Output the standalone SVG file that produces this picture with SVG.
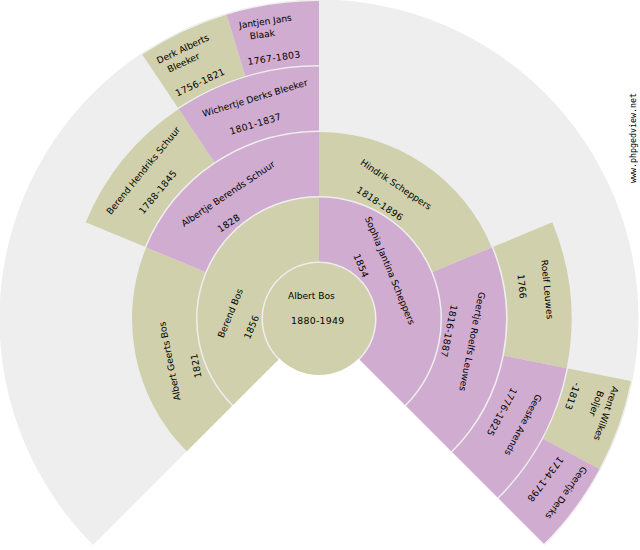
<svg xmlns="http://www.w3.org/2000/svg" width="640" height="550" viewBox="0 0 640 550">
<style>
.bg{fill:#eeeeee}
.m{fill:#d0d0ac}
.f{fill:#d0acd0}
text{font-family:"DejaVu Sans","Verdana",sans-serif;font-size:9.1px;fill:#000}
text.d{font-size:9.33px;letter-spacing:0.3px}
.wm{font-family:"DejaVu Sans Mono",monospace;font-size:8px;fill:#000}
</style>
<rect width="640" height="550" fill="#ffffff"/>
<path id="fan-background" class="bg" d="M319,319 L93.079,544.921 A319.5,319.5 0 1 1 544.921,544.921 Z"/>
<g id="connectors"/>

<g id="p1-albert-bos">
<circle class="m" cx="319" cy="319" r="56"/>
<g transform="translate(279,299)"><text x="9" y="0">Albert Bos</text><text class="d" x="12" y="25">1880-1949</text></g>
</g>

<g id="p2-berend-bos">
<path class="m" d="M233.087,404.913 A121.5,121.5 0 0 1 319,197.5 L319,261.5 A57.5,57.5 0 0 0 278.341,359.659 Z"/>
<g transform="translate(209.53,371.72) rotate(-67.5)"><text x="36" y="0">Berend Bos</text><text class="d" x="45" y="25">1856</text></g>
</g>

<g id="p3-sophia-jantina-scheppers">
<path class="f" d="M319,197.5 A121.5,121.5 0 0 1 404.913,404.913 L359.659,359.659 A57.5,57.5 0 0 0 319,261.5 Z"/>
<g transform="translate(359.13,204.32) rotate(67.5)"><text x="15" y="0">Sophia Jantina Scheppers</text><text class="d" x="45" y="25">1854</text></g>
</g>

<g id="p4-albert-geerts-bos">
<path class="m" d="M186.771,451.229 A187,187 0 0 1 146.234,247.438 L205.363,271.930 A123,123 0 0 0 232.026,405.974 Z"/>
<g transform="translate(185.88,426.34) rotate(-101.25)"><text x="27" y="0">Albert Geerts Bos</text><text class="d" x="45" y="25">1821</text></g>
</g>

<g id="p5-albertje-berends-schuur">
<path class="f" d="M146.234,247.438 A187,187 0 0 1 319,132 L319,196 A123,123 0 0 0 205.363,271.930 Z"/>
<g transform="translate(168.92,237.05) rotate(-33.75)"><text x="18" y="0">Albertje Berends Schuur</text><text class="d" x="45" y="25">1828</text></g>
</g>

<g id="p6-hindrik-scheppers">
<path class="m" d="M319,132 A187,187 0 0 1 491.766,247.438 L432.637,271.930 A123,123 0 0 0 319,196 Z"/>
<g transform="translate(337.28,148.98) rotate(33.75)"><text x="27" y="0">Hindrik Scheppers</text><text class="d" x="39" y="25">1818-1896</text></g>
</g>

<g id="p7-geertje-roelfs-leuwes">
<path class="f" d="M491.766,247.438 A187,187 0 0 1 451.229,451.229 L405.974,405.974 A123,123 0 0 0 432.637,271.930 Z"/>
<g transform="translate(483.07,270.82) rotate(101.25)"><text x="21" y="0">Geertje Roelfs Leuwes</text><text class="d" x="39" y="25">1816-1887</text></g>
</g>

<g id="p10-berend-hendriks-schuur">
<path class="m" d="M85.720,222.373 A252.5,252.5 0 0 1 178.719,109.054 L214.275,162.268 A188.5,188.5 0 0 0 144.849,246.864 Z"/>
<g transform="translate(101.2,226.81) rotate(-50.625)"><text x="15" y="0">Berend Hendriks Schuur</text><text class="d" x="36" y="25">1788-1845</text></g>
</g>

<g id="p11-wichertje-derks-bleeker">
<path class="f" d="M178.719,109.054 A252.5,252.5 0 0 1 319,66.5 L319,130.5 A188.5,188.5 0 0 0 214.275,162.268 Z"/>
<g transform="translate(189.13,121.35) rotate(-16.875)"><text x="15" y="0">Wichertje Derks Bleeker</text><text class="d" x="36" y="25">1801-1837</text></g>
</g>

<g id="p14-roelf-leuwes">
<path class="m" d="M552.280,222.373 A252.5,252.5 0 0 1 566.648,368.260 L503.878,355.774 A188.5,188.5 0 0 0 493.151,246.864 Z"/>
<g transform="translate(538.2,230.19) rotate(84.375)"><text x="30" y="0">Roelf Leuwes</text><text class="d" x="42" y="25">1766</text></g>
</g>

<g id="p15-geeske-arends">
<path class="f" d="M566.648,368.260 A252.5,252.5 0 0 1 497.545,497.545 L452.290,452.290 A188.5,188.5 0 0 0 503.878,355.774 Z"/>
<g transform="translate(550.6,366.92) rotate(118.125)"><text x="30" y="0">Geeske Arends</text><text class="d" x="36" y="25">1776-1825</text></g>
</g>

<g id="p22-derk-alberts-bleeker">
<path class="m" d="M142.329,54.593 A318,318 0 0 1 226.689,14.693 L245.268,75.937 A254,254 0 0 0 177.885,107.807 Z"/>
<g transform="translate(153.16,66.61) rotate(-25.3125)"><text x="6" y="0">Derk Alberts</text><text x="12" y="12.5">Bleeker</text><text class="d" x="9" y="37.5">1756-1821</text></g>
</g>

<g id="p23-jantjen-jans-blaak">
<path class="f" d="M226.689,14.693 A318,318 0 0 1 319,1 L319,65 A254,254 0 0 0 245.268,75.937 Z"/>
<g transform="translate(233.57,29.34) rotate(-8.4375)"><text x="6" y="0">Jantjen Jans</text><text x="15" y="12.5">Blaak</text><text class="d" x="9" y="37.5">1767-1803</text></g>
</g>

<g id="p30-arent-wilkes-boljer">
<path class="m" d="M630.890,381.039 A318,318 0 0 1 599.451,468.904 L543.008,438.735 A254,254 0 0 0 568.119,368.553 Z"/>
<g transform="translate(614.74,380.19) rotate(109.6875)"><text x="6" y="0">Arent Wilkes</text><text x="15" y="12.5">Boljer</text><text class="d" x="15" y="37.5">-1813</text></g>
</g>

<g id="p31-geertje-derks">
<path class="f" d="M599.451,468.904 A318,318 0 0 1 543.860,543.860 L498.605,498.605 A254,254 0 0 0 543.008,438.735 Z"/>
<g transform="translate(584.24,463.41) rotate(126.5625)"><text x="3" y="0">Geertje Derks</text><text class="d" x="9" y="25">1734-1798</text></g>
</g>

<text class="wm" transform="translate(636,183) rotate(-90)" textLength="90" lengthAdjust="spacingAndGlyphs">www.phpgedview.net</text>
</svg>
